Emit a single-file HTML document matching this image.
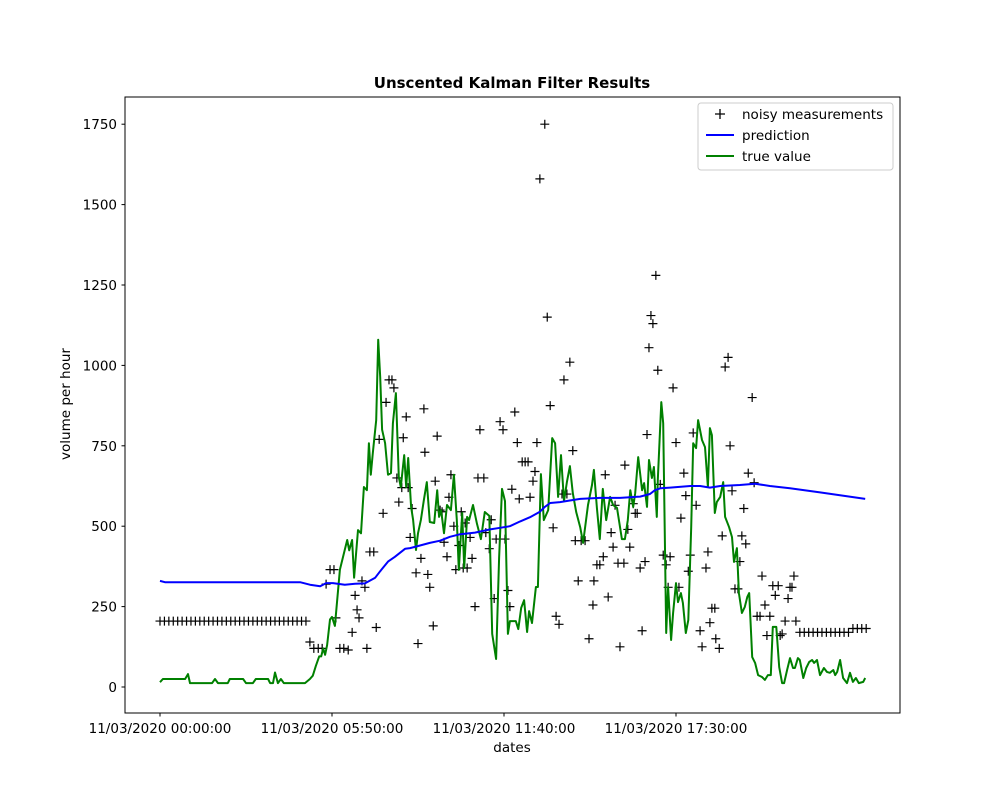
<!DOCTYPE html>
<html><head><meta charset="utf-8"><title>Unscented Kalman Filter Results</title>
<style>
html,body{margin:0;padding:0;background:#fff;}
svg{display:block;font-family:"DejaVu Sans","Liberation Sans",sans-serif;}
</style></head>
<body>
<svg id="chart" width="1000" height="800" viewBox="0 0 1000 800" xmlns="http://www.w3.org/2000/svg">
<rect x="0" y="0" width="1000" height="800" fill="#fff"/>
<text x="512" y="88" text-anchor="middle" font-size="15" font-weight="bold">Unscented Kalman Filter Results</text>
<g id="plot"></g>
<rect x="125" y="97" width="775" height="616" fill="none" stroke="#000" stroke-width="1"/>
<g id="axes"></g>
<text x="512" y="752" text-anchor="middle" font-size="13.5">dates</text>
<text transform="translate(70,404) rotate(-90)" text-anchor="middle" font-size="13.5">volume per hour</text>
<g>
<rect x="698" y="103" width="195" height="67" rx="3" fill="#fff" stroke="#ccc" stroke-width="1"/>
<g>
<path d="M715 114 h10 M720 109 v10" stroke="#000" stroke-width="1.3"/>
<text x="742" y="119" font-size="13.5">noisy measurements</text></g>
<g>
<path d="M706 135 h28" stroke="#0000ff" stroke-width="2"/>
<text x="742" y="140" font-size="13.5">prediction</text></g>
<g>
<path d="M706 156 h28" stroke="#008000" stroke-width="2"/>
<text x="742" y="161" font-size="13.5">true value</text></g>
</g>
</svg>
<script>
// time in minutes since 11/03/2020 00:00:00
const xTickMinutes = [0, 350, 700, 1050];
const xTickLabels = ["11/03/2020 00:00:00","11/03/2020 05:50:00","11/03/2020 11:40:00","11/03/2020 17:30:00"];
const yTicks = [0,250,500,750,1000,1250,1500,1750];

const predMin = [0,10,285,305,326,338,352,376,397,417,438,448,464,478,499,509,529,549,570,590,611,641,672,692,712,733,753,773,783,794,814,834,855,895,936,977,997,1007,1018,1038,1079,1099,1119,1140,1180,1211,1241,1282,1343,1435];
const predVal = [330,326,326,318,313,323,323,318,321,322,340,360,390,405,430,432,440,448,455,467,475,480,490,495,500,515,528,545,560,572,575,580,585,588,588,592,600,612,618,620,625,625,620,625,628,632,625,618,605,585];

const trueMin = [0,6,51,57,61,106,112,118,138,142,169,175,189,195,220,224,230,234,240,246,252,295,305,311,317,324,328,332,336,340,346,350,356,366,381,385,391,395,403,409,415,421,425,429,433,440,444,448,452,458,464,470,474,480,486,490,497,501,505,511,515,521,525,531,537,543,549,558,564,568,572,578,584,592,598,604,608,615,619,625,629,637,645,653,661,670,676,684,690,696,702,708,712,724,729,735,741,747,751,757,765,769,775,781,790,798,804,810,816,822,828,834,840,847,855,861,871,879,883,889,895,901,908,916,922,930,940,946,952,957,963,967,973,981,985,991,995,1001,1005,1011,1013,1020,1024,1030,1034,1040,1044,1050,1054,1060,1064,1070,1075,1081,1085,1091,1095,1103,1109,1115,1119,1123,1129,1133,1140,1146,1150,1158,1164,1168,1174,1178,1184,1190,1195,1199,1205,1211,1217,1225,1231,1237,1243,1247,1254,1260,1266,1270,1276,1282,1288,1292,1298,1302,1309,1315,1321,1327,1331,1337,1343,1351,1357,1363,1370,1374,1378,1384,1390,1398,1404,1410,1416,1422,1431,1435];
const trueVal = [15,25,25,40,12,12,25,12,12,25,25,12,12,25,25,12,12,45,12,25,12,12,25,35,65,95,95,120,100,130,210,218,190,365,457,425,457,340,488,478,622,612,758,660,727,830,1080,964,800,758,660,665,820,914,653,622,721,622,712,560,520,426,478,520,582,637,513,510,612,529,550,478,566,550,660,520,364,541,370,529,519,566,507,460,544,532,165,87,401,616,578,165,205,205,180,246,270,171,236,199,311,311,662,519,550,774,758,591,721,578,637,687,603,544,497,448,566,628,675,557,460,616,519,591,566,557,460,460,519,612,560,603,715,612,634,560,706,650,684,529,644,886,820,168,311,146,230,323,264,292,261,168,208,497,758,743,830,768,746,622,805,783,541,575,591,637,529,497,466,389,432,292,230,249,280,292,93,75,37,31,22,37,37,187,187,62,12,12,53,90,59,59,90,84,28,59,78,84,75,84,37,59,47,44,53,37,47,84,28,12,44,16,28,12,16,28];

const measMin = [0,9,18,27,36,45,54,63,72,81,90,99,108,117,126,135,144,153,162,171,180,189,198,207,216,225,234,243,252,261,270,279,288,297,
305,313,322,330,338,346,354,358,366,374,383,391,397,401,405,411,417,421,427,435,440,446,454,460,466,472,476,482,486,492,495,501,505,509,513,521,525,531,537,539,545,549,556,560,564,570,574,578,584,588,592,598,602,608,613,617,621,625,631,635,641,647,651,659,663,670,674,680,684,692,698,702,708,712,716,722,727,731,737,743,749,753,759,763,767,773,783,788,794,800,806,812,818,822,828,834,840,845,851,857,865,873,881,883,889,895,902,906,912,918,922,926,932,936,944,946,952,956,963,967,971,977,981,987,991,995,999,1003,1009,1013,1018,1024,1030,1034,1038,1044,1050,1056,1060,1066,1070,1075,1079,1085,1091,1099,1103,1111,1115,1119,1123,1129,1131,1138,1144,1150,1156,1160,1164,1170,1176,1180,1184,1188,1192,1197,1205,1209,1215,1221,1225,1231,1235,1241,1247,1252,1258,1262,1266,1272,1278,1282,1286,1290,1294,
1302,1311,1320,1329,1338,1347,1356,1365,1374,1383,1392,1401,1410,1419,1428,1437];
const measVal = [205,205,205,205,205,205,205,205,205,205,205,205,205,205,205,205,205,205,205,205,205,205,205,205,205,205,205,205,205,205,205,205,205,205,
140,120,120,120,320,365,365,215,120,120,115,170,285,240,215,330,310,120,420,420,185,770,540,885,955,955,930,650,575,620,775,840,620,465,555,355,135,400,865,730,350,310,190,640,780,550,545,450,405,590,660,500,365,440,545,370,510,370,465,400,250,650,800,650,480,430,520,275,460,825,800,460,300,250,615,855,760,585,700,700,700,590,640,670,760,1580,1750,1150,875,495,220,195,600,955,600,1010,735,455,330,455,455,150,255,330,380,380,405,660,280,480,435,565,385,125,385,690,490,435,570,540,540,370,175,390,785,1055,1155,1130,1280,985,630,410,380,310,405,930,760,310,525,665,595,360,410,790,565,175,125,370,420,200,245,245,150,120,470,995,1025,750,610,305,305,390,470,555,445,665,900,635,220,220,345,255,160,220,315,285,315,160,165,205,275,310,310,345,205,
170,170,170,170,170,170,170,170,170,170,170,170,182,182,182,182];

const NS = "http://www.w3.org/2000/svg";
const X0 = 160, PXPERMIN = 172/350;
const Y0 = 687, PXPERUNIT = 80.4/250;
function xs(m){ return X0 + m*PXPERMIN; }
function ys(v){ return Y0 - v*PXPERUNIT; }
const plot = document.getElementById('plot');
const axes = document.getElementById('axes');

function mk(tag, attrs, parent){
  const e = document.createElementNS(NS, tag);
  for (const k in attrs) e.setAttribute(k, attrs[k]);
  parent.appendChild(e);
  return e;
}

// y ticks
yTicks.forEach(function(v){
  const t = mk('line', {x1:121.5, x2:125, y1:ys(v), y2:ys(v), stroke:'#000', 'stroke-width':1}, axes);
  
  
  const l = mk('text', {x:117, y:ys(v)+5, 'text-anchor':'end', 'font-size':13.5}, axes);
  l.textContent = String(v);
  
  
});
// x ticks
xTickMinutes.forEach(function(m, i){
  const t = mk('line', {x1:xs(m), x2:xs(m), y1:713, y2:716.5, stroke:'#000', 'stroke-width':1}, axes);
  
  
  const l = mk('text', {x:xs(m), y:733, 'text-anchor':'middle', 'font-size':13.5}, axes);
  l.textContent = xTickLabels[i];
  
  
});

// measurements
measMin.forEach(function(m, i){
  const cx = xs(m), cy = ys(measVal[i]);
  const p = mk('path', {d:'M'+(cx-4.5)+' '+cy+' h9 M'+cx+' '+(cy-4.5)+' v9', stroke:'#000', 'stroke-width':1.2, fill:'none'}, plot);
  
  
});

// true value line
let d1 = '';
trueMin.forEach(function(m, i){ d1 += (i ? 'L' : 'M') + xs(m).toFixed(1) + ' ' + ys(trueVal[i]).toFixed(1) + ' '; });
const tl = mk('path', {d:d1, stroke:'#008000', 'stroke-width':2, fill:'none', 'stroke-linejoin':'round'}, plot);



// prediction line
let d2 = '';
predMin.forEach(function(m, i){ d2 += (i ? 'L' : 'M') + xs(m).toFixed(1) + ' ' + ys(predVal[i]).toFixed(1) + ' '; });
const pl = mk('path', {d:d2, stroke:'#0000ff', 'stroke-width':2, fill:'none', 'stroke-linejoin':'round'}, plot);


</script>
</body></html>
